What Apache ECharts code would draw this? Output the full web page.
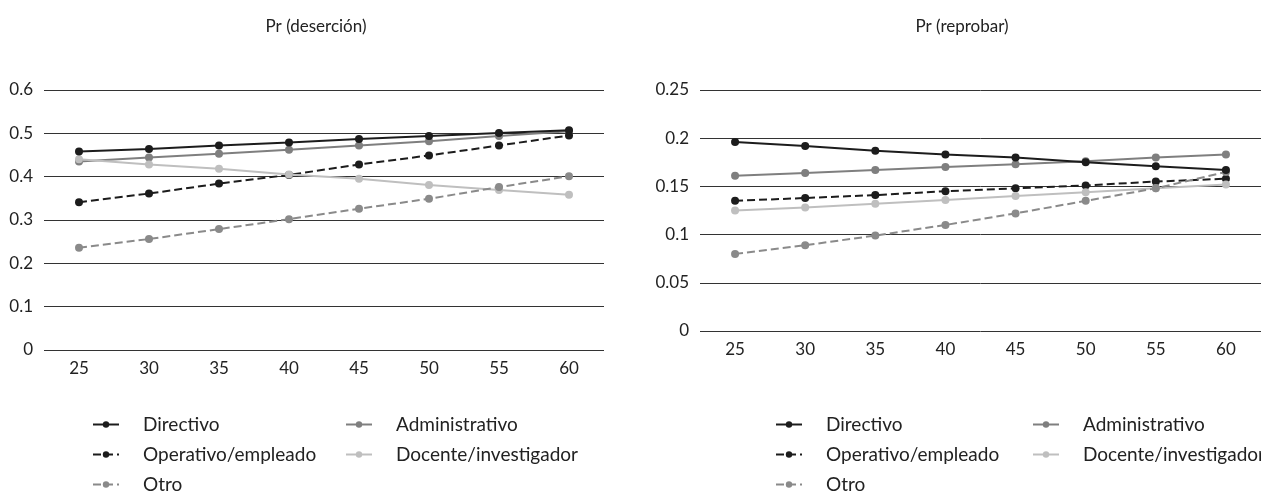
<!DOCTYPE html>
<html><head><meta charset="utf-8">
<script src="https://cdn.jsdelivr.net/npm/echarts@6/dist/echarts.min.js"></script>
<style>html,body{margin:0;padding:0;background:#fff}#c{width:1261px;height:492px}</style>
</head><body><div id="c"></div>
<script>
const categories = ['25','30','35','40','45','50','55','60'];
const seriesNames = ['Directivo','Administrativo','Operativo/empleado','Docente/investigador','Otro'];
// Pr (deserción)
const desDirectivo = [0.458,0.464,0.472,0.479,0.487,0.494,0.501,0.507];
const desAdministrativo = [0.435,0.444,0.453,0.462,0.472,0.482,0.494,0.505];
const desOperativo = [0.341,0.361,0.384,0.404,0.428,0.449,0.472,0.495];
const desDocente = [0.440,0.428,0.418,0.405,0.395,0.381,0.369,0.358];
const desOtro = [0.236,0.256,0.279,0.302,0.326,0.349,0.376,0.401];
// Pr (reprobar)
const repDirectivo = [0.196,0.192,0.187,0.183,0.180,0.175,0.171,0.167];
const repAdministrativo = [0.161,0.164,0.167,0.170,0.173,0.176,0.180,0.183];
const repOperativo = [0.135,0.138,0.141,0.145,0.148,0.151,0.155,0.158];
const repDocente = [0.125,0.128,0.132,0.136,0.140,0.144,0.148,0.152];
const repOtro = [0.080,0.089,0.099,0.110,0.122,0.135,0.148,0.165];
const desTicks = {min:0, max:0.6, interval:0.1};
const repTicks = {min:0, max:0.25, interval:0.05};

const styles = {
  'Directivo': {color:'#1c1c1c', type:'solid'},
  'Administrativo': {color:'#7f7f7f', type:'solid'},
  'Operativo/empleado': {color:'#1c1c1c', type:'dashed'},
  'Docente/investigador': {color:'#bfbfbf', type:'solid'},
  'Otro': {color:'#8a8a8a', type:'dashed'}
};
const FONT = 'Lato';
function mkSeries(name, data, idx){
  const s = styles[name];
  return {name, type:'line', data, xAxisIndex:idx, yAxisIndex:idx,
    symbol:'circle', symbolSize:8, showSymbol:true,
    itemStyle:{color:s.color}, lineStyle:{color:s.color, width:2, type:s.type},
    z: name==='Directivo'?5:3, animation:false};
}
function xAx(idx){return {type:'category', gridIndex:idx, data:categories, boundaryGap:true,
  axisLine:{show:false}, axisTick:{show:false},
  axisLabel:{color:'#222', fontSize:17, fontFamily:FONT, margin:10}};}
function yAx(idx, t, dec){return {type:'value', gridIndex:idx, min:t.min, max:t.max, interval:t.interval,
  axisLine:{show:false}, axisTick:{show:false},
  splitLine:{lineStyle:{color:'#333', width:1}},
  axisLabel:{color:'#222', fontSize:17, fontFamily:FONT, margin:11,
    formatter:v=>String(parseFloat(v.toFixed(dec)))}};}

const legendPos = [
  // left chart
  {left:92, top:415}, {left:345, top:415}, {left:92, top:445}, {left:345, top:445}, {left:92, top:475},
  // right chart
  {left:775, top:415}, {left:1032, top:415}, {left:775, top:445}, {left:1032, top:445}, {left:775, top:475}
];
const legendOrder = ['Directivo','Administrativo','Operativo/empleado','Docente/investigador','Otro'];
const legends = legendPos.map((p,i)=>({
  data:[legendOrder[i%5]], left:p.left, top:p.top, itemWidth:26, itemHeight:8, itemGap:0, padding:0,
  selectedMode:false,
  textStyle:{color:'#222', fontSize:19, fontFamily:FONT, padding:[0,0,0,19]}
}));

const option = {
  animation:false,
  title:[
    {text:'Pr (deserción)', left:311, top:13, textAlign:'center', textStyle:{fontSize:17, fontWeight:'normal', color:'#222', fontFamily:FONT}},
    {text:'Pr (reprobar)', left:957, top:13, textAlign:'center', textStyle:{fontSize:17, fontWeight:'normal', color:'#222', fontFamily:FONT}}
  ],
  legend: legends,
  grid:[
    {left:44, top:90, width:560, height:260},
    {left:700, top:90, width:573, height:241}
  ],
  xAxis:[xAx(0), xAx(1)],
  yAxis:[yAx(0, desTicks, 1), yAx(1, repTicks, 2)],
  series:[
    mkSeries('Directivo', desDirectivo, 0),
    mkSeries('Administrativo', desAdministrativo, 0),
    mkSeries('Operativo/empleado', desOperativo, 0),
    mkSeries('Docente/investigador', desDocente, 0),
    mkSeries('Otro', desOtro, 0),
    mkSeries('Directivo', repDirectivo, 1),
    mkSeries('Administrativo', repAdministrativo, 1),
    mkSeries('Operativo/empleado', repOperativo, 1),
    mkSeries('Docente/investigador', repDocente, 1),
    mkSeries('Otro', repOtro, 1)
  ]
};
const chart = echarts.init(document.getElementById('c'), null, {renderer:'canvas'});
chart.setOption(option);
</script></body></html>
